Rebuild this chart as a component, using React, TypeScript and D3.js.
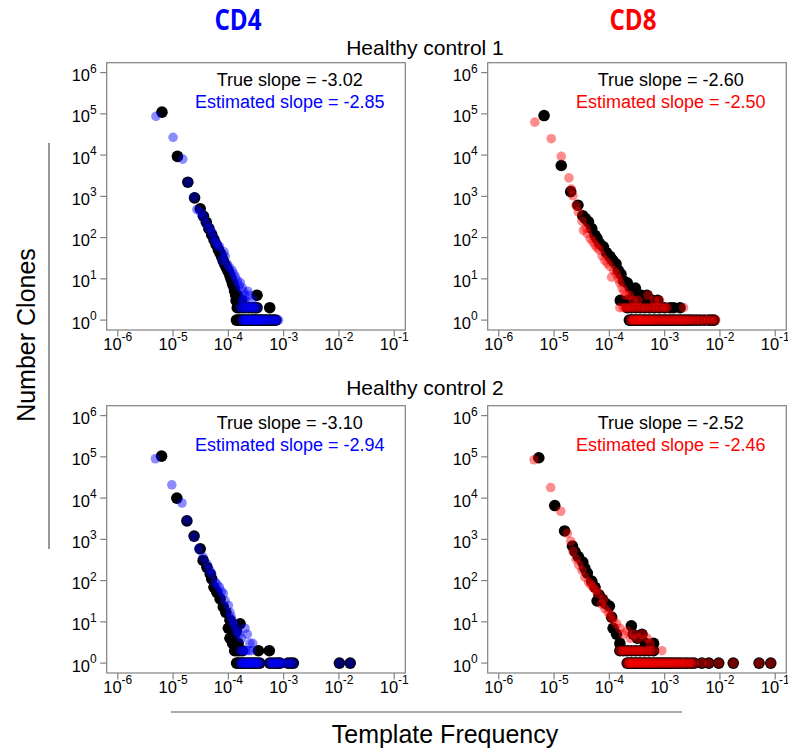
import React from 'react';
import * as d3 from 'd3';

type Pt = [number, number];

const columnTitles = ['CD4', 'CD8'];
const columnColors = ['#0000ff', '#ff0000'];
const pointColors = ['rgba(0,0,255,0.45)', 'rgba(255,0,0,0.45)'];
const rowTitles = ['Healthy control 1', 'Healthy control 2'];
const trueSlopes = ['-3.02', '-2.60', '-3.10', '-2.52'];
const estSlopes = ['-2.85', '-2.50', '-2.94', '-2.46'];
const xTickExps = [-6, -5, -4, -3, -2, -1];
const yTickExps = [0, 1, 2, 3, 4, 5, 6];
const xAxisTitle = 'Template Frequency';
const yAxisTitle = 'Number Clones';

// ---------- Healthy control 1, CD4 ----------
const hc1Cd4True: Pt[] = [
  [6.3e-6, 110000], [1.2e-5, 9300], [1.85e-5, 2200], [2.45e-5, 920], [3.1e-5, 500], [3.55e-5, 330],
  [4.0e-5, 235], [4.45e-5, 165], [5.0e-5, 118], [5.5e-5, 89], [6.0e-5, 68], [6.6e-5, 51], [7.1e-5, 42],
  [7.6e-5, 34], [8.1e-5, 27], [8.7e-5, 22], [9.3e-5, 18], [1.0e-4, 15], [1.07e-4, 12], [1.12e-4, 10],
  [1.18e-4, 8], [1.22e-4, 7], [1.28e-4, 6], [1.3e-4, 5], [1.36e-4, 4], [1.38e-4, 3], [1.45e-4, 4],
  [1.55e-4, 3], [1.75e-4, 3], [3.3e-4, 4],
];
const hc1Cd4TrueOnes = [1.4e-4, 1.5e-4, 1.6e-4, 1.72e-4, 1.85e-4, 2.0e-4, 2.15e-4, 2.3e-4, 2.5e-4, 2.7e-4, 2.9e-4,
  3.1e-4, 3.35e-4, 3.6e-4, 3.9e-4, 4.2e-4, 4.6e-4, 5.0e-4, 5.5e-4, 6.0e-4, 6.6e-4, 7.2e-4];
const hc1Cd4TrueTwos = [1.45e-4, 1.6e-4, 1.8e-4, 2.0e-4, 2.3e-4, 2.6e-4, 2.9e-4, 3.3e-4, 5.6e-4];
const hc1Cd4Est: Pt[] = [
  [4.9e-6, 87000], [1.0e-5, 27000], [1.5e-5, 8000], [1.87e-5, 2200], [2.4e-5, 950], [2.7e-5, 480],
  [3.2e-5, 400], [3.55e-5, 316], [4.0e-5, 220], [4.5e-5, 170], [5.0e-5, 138], [5.4e-5, 100], [5.9e-5, 79],
  [6.4e-5, 66], [6.9e-5, 60], [7.7e-5, 28], [8.3e-5, 45], [8.8e-5, 35], [9.5e-5, 23], [1.05e-4, 19],
  [1.17e-4, 16], [1.26e-4, 13], [1.35e-4, 11], [1.45e-4, 9], [1.55e-4, 7], [1.65e-4, 8], [1.78e-4, 6],
  [1.86e-4, 5], [2.0e-4, 4], [2.25e-4, 5], [2.4e-4, 4], [2.7e-4, 3], [1.78e-4, 3], [2.0e-4, 3],
];
const hc1Cd4EstOnes = [1.78e-4, 1.9e-4, 2.0e-4, 2.1e-4, 2.2e-4, 2.32e-4, 2.45e-4, 2.6e-4, 2.75e-4, 2.9e-4, 3.05e-4,
  3.25e-4, 3.45e-4, 3.7e-4, 3.95e-4, 4.25e-4, 4.6e-4, 5.0e-4, 5.5e-4, 6.1e-4, 6.8e-4, 7.6e-4, 8.1e-4];
const hc1Cd4EstTwos = [1.65e-4, 1.85e-4, 2.05e-4, 2.25e-4, 2.5e-4, 2.75e-4, 3.0e-4, 3.3e-4];

// ---------- Healthy control 1, CD8 ----------
const hc1Cd8True: Pt[] = [
  [6.6e-6, 91000], [1.35e-5, 5600], [2.0e-5, 1300], [2.7e-5, 610], [3.3e-5, 340], [3.7e-5, 290],
  [4.2e-5, 240], [4.8e-5, 166], [5.5e-5, 114], [6.0e-5, 95], [6.7e-5, 72], [7.8e-5, 60], [8.9e-5, 43],
  [1.02e-4, 35], [1.1e-4, 30], [1.18e-4, 27], [1.32e-4, 23], [1.45e-4, 16], [1.62e-4, 13], [1.8e-4, 9],
  [2.1e-4, 8], [2.4e-4, 6], [2.95e-4, 6], [2.75e-4, 4], [1.58e-4, 3], [4.8e-4, 4], [3.8e-4, 4],
  [6.0e-4, 3], [3.3e-4, 3], [2.2e-4, 3], [2.5e-4, 3], [4.2e-4, 3], [7.5e-4, 3],
];
const hc1Cd8TrueOnes = [2.3e-4, 2.5e-4, 2.7e-4, 3.0e-4, 3.3e-4, 3.6e-4, 4.0e-4, 4.4e-4, 4.9e-4, 5.4e-4, 6.0e-4,
  6.6e-4, 7.3e-4, 8.1e-4, 9.0e-4, 1.0e-3, 1.1e-3, 1.22e-3, 1.35e-3, 1.5e-3, 1.66e-3, 1.85e-3, 2.05e-3, 2.3e-3,
  2.6e-3, 2.9e-3, 3.3e-3, 3.8e-3, 4.4e-3, 5.2e-3, 6.2e-3, 7.0e-3, 7.8e-3];
const hc1Cd8TrueTwos = [2.1e-4, 2.5e-4, 3.0e-4, 3.6e-4, 4.3e-4, 5.3e-4, 6.5e-4, 8.0e-4, 1.0e-3, 1.25e-3, 1.45e-3, 1.9e-3];
const hc1Cd8Est: Pt[] = [
  [4.5e-6, 63000], [8.9e-6, 25000], [1.35e-5, 9300], [1.86e-5, 2800], [2.05e-5, 1500], [2.2e-5, 1030],
  [2.5e-5, 600], [2.75e-5, 420], [3.2e-5, 250], [3.4e-5, 150], [3.8e-5, 170], [4.0e-5, 125], [4.5e-5, 95],
  [5.0e-5, 80], [5.5e-5, 66], [6.0e-5, 57], [6.6e-5, 50], [7.4e-5, 36], [8.3e-5, 28], [9.2e-5, 24],
  [1.02e-4, 20], [1.1e-4, 11], [1.2e-4, 16], [1.35e-4, 13], [1.45e-4, 10], [1.55e-4, 8], [1.7e-4, 6],
  [1.85e-4, 5], [2.0e-4, 4], [2.3e-4, 4], [2.7e-4, 3], [3.3e-4, 3], [8.1e-4, 3], [5.0e-4, 4], [6.5e-4, 3],
];
const hc1Cd8EstOnes = [2.4e-4, 2.6e-4, 2.8e-4, 3.0e-4, 3.25e-4, 3.5e-4, 3.8e-4, 4.1e-4, 4.5e-4, 4.9e-4, 5.4e-4,
  5.9e-4, 6.5e-4, 7.2e-4, 8.0e-4, 8.9e-4, 1.0e-3, 1.1e-3, 1.23e-3, 1.37e-3, 1.52e-3, 1.7e-3, 1.9e-3, 2.1e-3,
  2.35e-3, 2.65e-3, 3.0e-3, 3.4e-3, 3.9e-3, 4.5e-3, 5.3e-3, 6.2e-3, 7.2e-3, 8.4e-3];
const hc1Cd8EstTwos = [1.55e-4, 1.8e-4, 2.0e-4, 2.3e-4, 2.6e-4, 3.0e-4, 3.5e-4, 4.0e-4, 4.6e-4, 5.4e-4, 6.3e-4,
  7.3e-4, 8.5e-4, 1.0e-3, 1.1e-3, 2.2e-3];

// ---------- Healthy control 2, CD4 ----------
const hc2Cd4True: Pt[] = [
  [6.2e-6, 104000], [1.17e-5, 10000], [1.78e-5, 2800], [2.4e-5, 1200], [3.1e-5, 590], [3.5e-5, 308],
  [4.1e-5, 210], [4.7e-5, 145], [5.0e-5, 110], [5.5e-5, 69], [6.2e-5, 52], [7.1e-5, 36], [8.1e-5, 23],
  [9.0e-5, 17], [1.0e-4, 7], [1.07e-4, 11], [1.15e-4, 9], [1.63e-4, 9], [1.07e-4, 4], [1.2e-4, 3],
  [1.3e-4, 5], [1.4e-4, 6], [1.5e-4, 3],
];
const hc2Cd4TrueOnes = [1.41e-4, 1.52e-4, 1.65e-4, 1.8e-4, 1.95e-4, 2.1e-4, 2.3e-4, 2.5e-4, 2.75e-4, 3.0e-4, 3.3e-4,
  3.7e-4, 5.6e-4, 6.3e-4, 7.2e-4, 8.0e-4, 8.6e-4, 1.2e-3, 1.35e-3, 1.5e-3, 1.02e-2, 1.6e-2];
const hc2Cd4TrueTwos = [1.3e-4, 1.45e-4, 1.6e-4, 1.8e-4, 3.5e-4, 5.5e-4];
const hc2Cd4Est: Pt[] = [
  [4.8e-6, 90000], [9.5e-6, 21000], [1.45e-5, 7600], [1.8e-5, 2900], [2.4e-5, 1150], [2.9e-5, 590],
  [3.5e-5, 370], [4.1e-5, 255], [4.6e-5, 180], [5.0e-5, 145], [5.8e-5, 92], [6.3e-5, 80], [6.9e-5, 69],
  [7.5e-5, 55], [8.1e-5, 48], [8.7e-5, 33], [1.0e-4, 25], [1.07e-4, 17], [1.13e-4, 13], [1.2e-4, 10],
  [1.3e-4, 8], [1.4e-4, 6], [1.55e-4, 5], [1.73e-4, 4], [2.0e-4, 7], [2.2e-4, 5], [2.45e-4, 3], [2.75e-4, 3],
];
const hc2Cd4EstOnes = [1.66e-4, 1.78e-4, 1.9e-4, 2.02e-4, 2.15e-4, 2.3e-4, 2.45e-4, 2.6e-4, 2.8e-4, 3.0e-4, 3.2e-4,
  3.45e-4, 3.7e-4, 5.6e-4, 6.1e-4, 6.6e-4, 7.2e-4, 7.8e-4, 8.5e-4, 9.2e-4, 1.13e-3, 1.3e-3, 1.5e-3, 1.02e-2, 1.6e-2];
const hc2Cd4EstTwos = [1.66e-4, 1.85e-4, 2.05e-4, 2.3e-4, 2.6e-4];

// ---------- Healthy control 2, CD8 ----------
const hc2Cd8True: Pt[] = [
  [5.3e-6, 95000], [1.03e-5, 6600], [1.55e-5, 1600], [2.15e-5, 690], [2.4e-5, 500], [2.75e-5, 380],
  [3.3e-5, 280], [3.6e-5, 200], [4.0e-5, 152], [4.8e-5, 97], [5.5e-5, 69], [6.0e-5, 32], [6.5e-5, 45],
  [7.5e-5, 35], [8.5e-5, 28], [1.0e-4, 24], [1.1e-4, 13], [1.17e-4, 7], [1.35e-4, 5], [1.55e-4, 3],
  [2.5e-4, 8], [2.7e-4, 5], [3.9e-4, 5], [6.3e-4, 3], [3.2e-4, 4], [4.5e-4, 3],
];
const hc2Cd8TrueOnes = [2.1e-4, 2.3e-4, 2.5e-4, 2.7e-4, 2.95e-4, 3.2e-4, 3.5e-4, 3.8e-4, 4.2e-4, 4.6e-4, 5.0e-4,
  5.5e-4, 6.0e-4, 6.6e-4, 7.3e-4, 8.0e-4, 8.8e-4, 9.7e-4, 1.07e-3, 1.18e-3, 1.3e-3, 1.45e-3, 1.6e-3, 1.8e-3,
  2.0e-3, 2.3e-3, 2.6e-3, 3.0e-3, 3.4e-3, 4.7e-3, 6.3e-3, 9.5e-3, 1.74e-2, 5.1e-2, 8.3e-2];
const hc2Cd8TrueTwos = [1.55e-4, 1.8e-4, 2.1e-4, 2.5e-4, 3.0e-4, 3.6e-4, 4.3e-4, 5.2e-4, 6.3e-4];
const hc2Cd8Est: Pt[] = [
  [4.35e-6, 85000], [8.7e-6, 18000], [1.32e-5, 4800], [1.74e-5, 1400], [2.0e-5, 900], [2.2e-5, 515],
  [2.5e-5, 330], [2.8e-5, 240], [3.2e-5, 178], [3.6e-5, 121], [4.2e-5, 92], [4.6e-5, 80], [5.1e-5, 69],
  [5.7e-5, 58], [6.3e-5, 48], [7.2e-5, 27], [7.8e-5, 35], [8.3e-5, 21], [9.5e-5, 17], [1.05e-4, 14],
  [1.17e-4, 11], [1.35e-4, 9], [1.55e-4, 7], [1.8e-4, 5], [2.1e-4, 6], [2.4e-4, 4], [2.8e-4, 5],
  [3.3e-4, 4], [4.0e-4, 5], [4.8e-4, 4], [5.5e-4, 3],
];
const hc2Cd8EstOnes = [2.1e-4, 2.25e-4, 2.4e-4, 2.6e-4, 2.8e-4, 3.0e-4, 3.25e-4, 3.5e-4, 3.8e-4, 4.1e-4, 4.5e-4,
  4.9e-4, 5.3e-4, 5.8e-4, 6.3e-4, 6.9e-4, 7.6e-4, 8.3e-4, 9.1e-4, 1.0e-3, 1.1e-3, 1.2e-3, 1.32e-3, 1.45e-3,
  1.6e-3, 1.77e-3, 1.95e-3, 2.15e-3, 2.4e-3, 2.7e-3, 3.0e-3, 3.4e-3, 4.7e-3, 6.3e-3, 9.5e-3, 1.74e-2, 5.1e-2, 8.3e-2];
const hc2Cd8EstTwos = [1.55e-4, 1.75e-4, 1.95e-4, 2.2e-4, 2.5e-4, 2.85e-4, 3.2e-4, 3.6e-4, 4.1e-4, 4.7e-4, 5.4e-4,
  6.2e-4, 8.9e-4];

const combine = (chain: Pt[], ones: number[], twos: number[]): Pt[] => [
  ...chain,
  ...ones.map((x) => [x, 1] as Pt),
  ...twos.map((x) => [x, 2] as Pt),
];

const panels = [
  { row: 0, col: 0, truth: combine(hc1Cd4True, hc1Cd4TrueOnes, hc1Cd4TrueTwos), est: combine(hc1Cd4Est, hc1Cd4EstOnes, hc1Cd4EstTwos) },
  { row: 0, col: 1, truth: combine(hc1Cd8True, hc1Cd8TrueOnes, hc1Cd8TrueTwos), est: combine(hc1Cd8Est, hc1Cd8EstOnes, hc1Cd8EstTwos) },
  { row: 1, col: 0, truth: combine(hc2Cd4True, hc2Cd4TrueOnes, hc2Cd4TrueTwos), est: combine(hc2Cd4Est, hc2Cd4EstOnes, hc2Cd4EstTwos) },
  { row: 1, col: 1, truth: combine(hc2Cd8True, hc2Cd8TrueOnes, hc2Cd8TrueTwos), est: combine(hc2Cd8Est, hc2Cd8EstOnes, hc2Cd8EstTwos) },
];

const W = 788;
const H = 750;
const PANEL_X = [106.7, 487.7];
const PANEL_Y = [62.7, 405.7];
const PW = 298.6;
const PH = 267.3;
const FONT = '"Liberation Sans", Arial, Helvetica, sans-serif';
const AXIS = '#808080';

const expLabel = (e: number) => (e < 0 ? `-${-e}` : `${e}`);

function Panel({ p, idx }: { p: (typeof panels)[number]; idx: number }) {
  const left = PANEL_X[p.col];
  const top = PANEL_Y[p.row];
  const x = d3.scaleLog().domain([10 ** -6.2, 10 ** -0.8]).range([left, left + PW]);
  const y = d3.scaleLog().domain([10 ** -0.24, 10 ** 6.24]).range([top + PH, top]);
  const bottom = top + PH;
  const tick = 6.5;
  return (
    <g>
      {p.truth.map((d, i) => (
        <circle key={`t${i}`} cx={x(d[0])} cy={y(d[1])} r={5.8} fill="#000" />
      ))}
      {p.est.map((d, i) => (
        <circle key={`e${i}`} cx={x(d[0])} cy={y(d[1])} r={4.8} fill={pointColors[p.col]} />
      ))}
      <rect x={left} y={top} width={PW} height={PH} fill="none" stroke={AXIS} strokeWidth={1.2} />
      {xTickExps.map((e) => {
        const xx = x(10 ** e);
        return (
          <g key={`xt${e}`}>
            <line x1={xx} x2={xx} y1={bottom} y2={bottom + tick} stroke={AXIS} strokeWidth={1.2} />
            <text x={xx} y={bottom + 19.5} textAnchor="middle" fontSize={16.5} fontFamily={FONT} fill="#000">
              <tspan>10</tspan>
              <tspan dy={-8.5} fontSize={12}>{expLabel(e)}</tspan>
            </text>
          </g>
        );
      })}
      {yTickExps.map((e) => {
        const yy = y(10 ** e);
        return (
          <g key={`yt${e}`}>
            <line x1={left - tick} x2={left} y1={yy} y2={yy} stroke={AXIS} strokeWidth={1.2} />
            <text x={left - 10} y={yy + 8.5} textAnchor="end" fontSize={16.5} fontFamily={FONT} fill="#000">
              <tspan>10</tspan>
              <tspan dy={-8.5} fontSize={12}>{expLabel(e)}</tspan>
            </text>
          </g>
        );
      })}
      <text x={left + 183} y={top + 23} textAnchor="middle" fontSize={18} fontFamily={FONT} fill="#000">
        {`True slope = ${trueSlopes[idx]}`}
      </text>
      <text x={left + 183} y={top + 45.5} textAnchor="middle" fontSize={18} fontFamily={FONT} fill={columnColors[p.col]}>
        {`Estimated slope = ${estSlopes[idx]}`}
      </text>
    </g>
  );
}

export default function App() {
  return (
    <svg
      width={W}
      height={H}
      viewBox={`0 0 ${W} ${H}`}
      style={{ position: 'absolute', left: 0, top: 0, background: '#fff', display: 'block' }}
    >
      <rect x={0} y={0} width={W} height={H} fill="#fff" />
      {columnTitles.map((t, i) => (
        <text
          key={t}
          x={[238, 633][i]}
          y={30}
          textAnchor="middle"
          fontSize={28}
          fontWeight="bold"
          fontFamily='"Open Sans", "Noto Sans", sans-serif'
          fill={columnColors[i]}
          textLength={47}
          lengthAdjust="spacingAndGlyphs"
        >
          {t}
        </text>
      ))}
      {rowTitles.map((t, i) => (
        <text key={t} x={425} y={[55, 395][i]} textAnchor="middle" fontSize={21} fontFamily={FONT} fill="#000">
          {t}
        </text>
      ))}
      {panels.map((p, i) => (
        <Panel key={i} p={p} idx={i} />
      ))}
      <line x1={49} x2={49} y1={143} y2={549} stroke="#555" strokeWidth={1.2} />
      <text
        transform="translate(35,335) rotate(-90)"
        textAnchor="middle"
        fontSize={25}
        fontFamily={FONT}
        fill="#000"
      >
        {yAxisTitle}
      </text>
      <line x1={171} x2={682} y1={712} y2={712} stroke="#555" strokeWidth={1.2} />
      <text x={445} y={743} textAnchor="middle" fontSize={25} fontFamily={FONT} fill="#000">
        {xAxisTitle}
      </text>
    </svg>
  );
}
